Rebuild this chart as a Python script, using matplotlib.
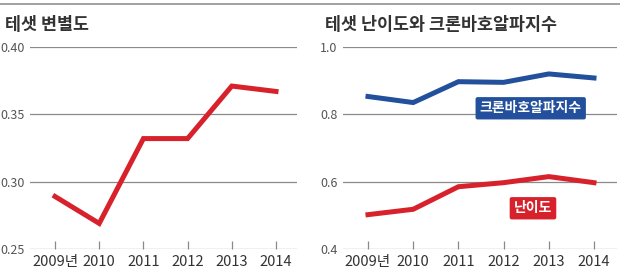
import matplotlib
matplotlib.use("Agg")
import matplotlib.pyplot as plt
from matplotlib.lines import Line2D

years = ["2009년", "2010", "2011", "2012", "2013", "2014"]
discrimination = [0.289, 0.269, 0.332, 0.332, 0.371, 0.367]
difficulty = [0.502, 0.518, 0.585, 0.597, 0.615, 0.597]
cronbach = [0.853, 0.835, 0.897, 0.895, 0.920, 0.908]

left_title = "테샛 변별도"
right_title = "테샛 난이도와 크론바호알파지수"
label_cronbach = "크론바호알파지수"
label_difficulty = "난이도"

RED = "#d7222c"
BLUE = "#22509c"
GRID = "#8a8a8a"
TXT = "#333333"
NUM_FONT = ["Liberation Sans Narrow", "Noto Sans CJK KR", "DejaVu Sans"]
KR_FONT = ["Noto Sans CJK KR", "DejaVu Sans"]

fig = plt.figure(figsize=(6.2, 2.76), dpi=100)
fig.patch.set_facecolor("white")

# top rule
fig.add_artist(Line2D([0, 1], [1 - 3.5 / 276, 1 - 3.5 / 276], color="#9a9a9a", lw=1.3,
                      transform=fig.transFigure))

x = list(range(len(years)))


def style(ax, yticks, ylabels, xlim, ylim):
    ax.set_xlim(*xlim)
    ax.set_ylim(*ylim)
    for s in ax.spines.values():
        s.set_visible(False)
    ax.set_yticks(yticks)
    ax.set_yticklabels(ylabels, family=NUM_FONT, fontsize=9, color="#555555")
    for yv in yticks:
        ax.axhline(yv, color=GRID, lw=0.9, zorder=1)
    ax.set_xticks(x)
    ax.set_xticklabels(years, family=NUM_FONT, fontsize=10.5, color=TXT)
    ax.tick_params(axis="y", length=0, pad=4)
    ax.tick_params(axis="x", direction="in", length=5.5, width=0.9, color=GRID, pad=4)
    ax.patch.set_alpha(0)


bottom = 1 - 249 / 276
height = 202 / 276

ax1 = fig.add_axes([30 / 620, bottom, 267 / 620, height])
style(ax1, [0.25, 0.30, 0.35, 0.40], ["0.25", "0.30", "0.35", "0.40"],
      (-0.566, 5.475), (0.25, 0.40))
ax1.plot(x, discrimination, color=RED, lw=3.6, solid_joinstyle="miter", zorder=3,
         clip_on=False)

ax2 = fig.add_axes([343 / 620, bottom, 274 / 620, height])
style(ax2, [0.4, 0.6, 0.8, 1.0], ["0.4", "0.6", "0.8", "1.0"],
      (-0.553, 5.509), (0.4, 1.0))
ax2.plot(x, cronbach, color=BLUE, lw=3.6, solid_joinstyle="miter", zorder=3)
ax2.plot(x, difficulty, color=RED, lw=3.6, solid_joinstyle="miter", zorder=3)

ax2.text(3.6, 0.818, label_cronbach, family=KR_FONT, fontsize=10, fontweight="bold",
         color="white", ha="center", va="center", zorder=5,
         bbox=dict(boxstyle="round,pad=0.3,rounding_size=0.15", fc=BLUE, ec="none"))
ax2.text(3.65, 0.521, label_difficulty, family=KR_FONT, fontsize=10, fontweight="bold",
         color="white", ha="center", va="center", zorder=5,
         bbox=dict(boxstyle="round,pad=0.3,rounding_size=0.15", fc=RED, ec="none"))

fig.text(5 / 620, 1 - 25 / 276, left_title, family=KR_FONT, fontsize=12.5, fontweight="bold",
         color=TXT, ha="left", va="center")
fig.text(325 / 620, 1 - 25 / 276, right_title, family=KR_FONT, fontsize=12.5, fontweight="bold",
         color=TXT, ha="left", va="center")

fig.savefig("out.png", dpi=100, facecolor="white")
